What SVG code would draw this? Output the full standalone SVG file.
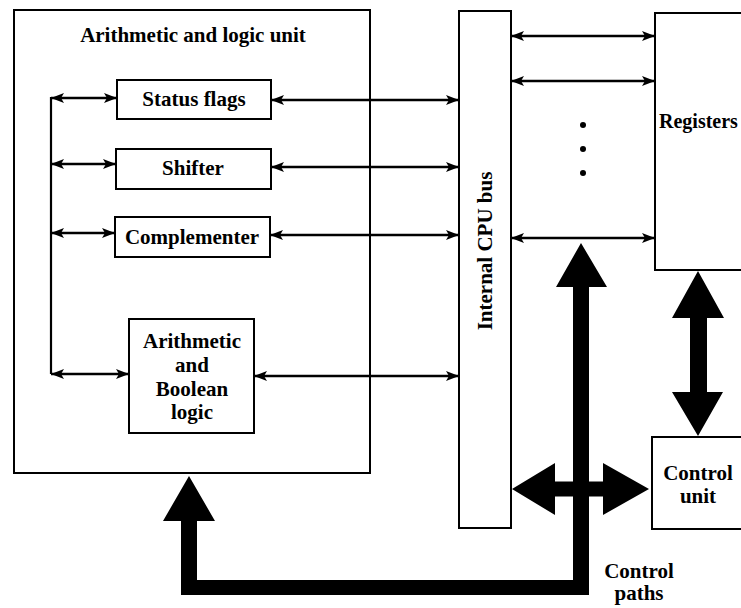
<svg xmlns="http://www.w3.org/2000/svg" width="741" height="608" viewBox="0 0 741 608">
  <style>
    .box { fill: #ffffff; stroke: #000; stroke-width: 2; }
    .lbl { font-family: "Liberation Serif", "Times New Roman", serif; font-weight: bold; font-size: 21px; fill: #000; }
    .mid { text-anchor: middle; }
    .wire { stroke: #000; stroke-width: 2.2; fill: none; }
    .dbl { stroke: #000; stroke-width: 2.4; fill: none; marker-start: url(#head); marker-end: url(#head); }
    .thick { fill: #000; stroke: none; }
  </style>
  <defs>
    <marker id="head" viewBox="0 0 13 10" refX="13" refY="5" markerWidth="13" markerHeight="10" markerUnits="userSpaceOnUse" orient="auto-start-reverse">
      <path d="M0,0 L13,5 L0,10 L3,5 z" fill="#000"/>
    </marker>
  </defs>

  <rect width="741" height="608" fill="#ffffff"/>

  <!-- Arithmetic and logic unit container -->
  <g id="alu">
    <rect class="box" x="14" y="10" width="356" height="463"/>
    <text class="lbl mid" x="193" y="42">Arithmetic and logic unit</text>
  </g>

  <g id="status-flags">
    <rect class="box" x="117" y="80" width="154" height="39"/>
    <text class="lbl mid" x="194" y="106">Status flags</text>
  </g>

  <g id="shifter">
    <rect class="box" x="116" y="149" width="155" height="40"/>
    <text class="lbl mid" x="193" y="175">Shifter</text>
  </g>

  <g id="complementer">
    <rect class="box" x="115" y="217" width="155" height="40"/>
    <text class="lbl mid" x="192" y="244">Complementer</text>
  </g>

  <g id="arith-boolean">
    <rect class="box" x="129" y="319" width="125" height="114"/>
    <text class="lbl mid" x="192" y="348">Arithmetic</text>
    <text class="lbl mid" x="192" y="372">and</text>
    <text class="lbl mid" x="192" y="396">Boolean</text>
    <text class="lbl mid" x="192" y="419">logic</text>
  </g>

  <g id="cpu-bus">
    <rect class="box" x="459" y="11" width="52" height="517"/>
    <text class="lbl mid" transform="translate(492,251) rotate(-90)">Internal CPU bus</text>
  </g>

  <g id="registers">
    <rect class="box" x="655" y="13" width="100" height="257"/>
    <text class="lbl" x="659" y="128" style="font-size:20px">Registers</text>
  </g>

  <g id="control-unit">
    <rect class="box" x="652" y="437" width="100" height="92"/>
    <text class="lbl mid" x="698" y="480">Control</text>
    <text class="lbl mid" x="698" y="503">unit</text>
  </g>

  <g id="control-paths-label">
    <text class="lbl mid" x="639" y="578">Control</text>
    <text class="lbl mid" x="639" y="600">paths</text>
  </g>

  <g id="connectors">
    <!-- internal ALU links -->
    <line class="wire" x1="51" y1="97" x2="51" y2="374"/>
    <line class="dbl" x1="51" y1="98" x2="117" y2="98"/>
    <line class="dbl" x1="51" y1="164" x2="116" y2="164"/>
    <line class="dbl" x1="51" y1="233" x2="115" y2="233"/>
    <line class="dbl" x1="51" y1="374" x2="129" y2="374"/>

    <!-- ALU units to bus -->
    <line class="dbl" x1="271" y1="100" x2="459" y2="100"/>
    <line class="dbl" x1="271" y1="167" x2="459" y2="167"/>
    <line class="dbl" x1="270" y1="235" x2="459" y2="235"/>
    <line class="dbl" x1="254" y1="376" x2="459" y2="376"/>

    <!-- bus to registers -->
    <line class="dbl" x1="511" y1="36" x2="655" y2="36"/>
    <line class="dbl" x1="511" y1="81" x2="655" y2="81"/>
    <line class="dbl" x1="511" y1="238" x2="655" y2="238"/>
    <circle cx="583" cy="125" r="3" fill="#000"/>
    <circle cx="583" cy="149" r="3" fill="#000"/>
    <circle cx="583" cy="173" r="3" fill="#000"/>

    <!-- control paths -->
    <polygon class="thick" points="189,476 215,521 197,521 197,580 573,580 573,287 556,287 581,243 607,287 589,287 589,595 181,595 181,521 163,521"/>
    <polygon class="thick" points="512,489 555,463 555,481.5 603,481.5 603,463 649,489 603,515 603,496.5 555,496.5 555,515"/>
    <polygon class="thick" points="698,271 724,318 707,318 707,392 723,392 698,436 672,392 690,392 690,318 672,318"/>
  </g>
</svg>
